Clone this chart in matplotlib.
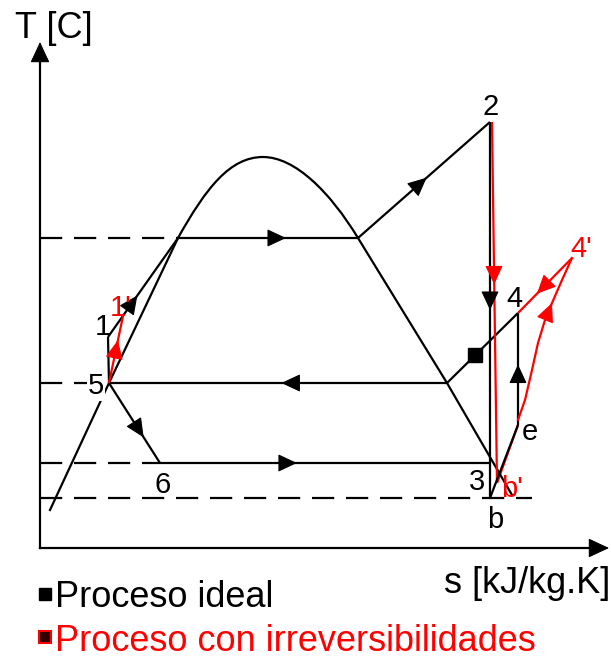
import matplotlib
matplotlib.use("Agg")
import matplotlib.pyplot as plt
from matplotlib.patches import FancyArrowPatch, PathPatch
from matplotlib.path import Path

# Schematic T-s diagram of a two-stage refrigeration cycle.
# Coordinates are schematic: s to the right, T upward, origin at the axes corner.

# saturation dome: straight liquid / vapour branches
liq_s = [10, 69, 138]
liq_T = [38, 165, 310]
vap_s = [318, 407, 472]
vap_T = [310, 165, 53]
# dome cap as two cubic Bezier pieces (anchor, control, control, anchor, ...)
cap_s = [138, 166, 190, 223, 255, 290, 318]
cap_T = [310, 360, 391, 391, 391, 356, 310]

# ideal-cycle state points
states = {
    "1": (68, 211), "5": (69, 165), "L": (138, 310), "R": (318, 310),
    "2": (450, 426), "3": (450, 85), "b": (450, 50), "6": (120, 85),
    "g": (407, 165), "4": (478, 235), "e": (478, 123),
}

# irreversible-process states
states_irr = {"1'": (83, 232), "2'": (452, 426), "b'": (457, 65), "4'": (532, 290)}
curve_e4_s = [478, 485, 492, 498, 505, 512, 522, 532]
curve_e4_T = [128, 148, 178, 205, 228, 245, 268, 290]

# constant-temperature reference levels (dashed)
dash_T = [310, 165, 85, 50]
dash_end = [138, 69, 120, 492]

BLACK = "#000000"
RED = "#ff0000"
LW = 1.6
FONT = "Liberation Sans"

fig = plt.figure(figsize=(6.11, 6.58), dpi=100)
ax = fig.add_axes([0, 0, 1, 1])
ax.set_xlim(-40, 571)
ax.set_ylim(-110, 548)
ax.axis("off")


def head(p, q, frac, color, ms=20):
    """Filled arrowhead on segment p->q, tip at fraction frac."""
    tx = p[0] + (q[0] - p[0]) * frac
    ty = p[1] + (q[1] - p[1]) * frac
    dx, dy = q[0] - p[0], q[1] - p[1]
    n = (dx * dx + dy * dy) ** 0.5
    ex, ey = dx / n, dy / n
    a = FancyArrowPatch((tx - 3 * ex, ty - 3 * ey), (tx, ty),
                        arrowstyle="-|>,head_length=0.6,head_width=0.28",
                        mutation_scale=ms, color=color, lw=0.8,
                        shrinkA=0, shrinkB=0, zorder=5)
    ax.add_patch(a)


def seg(p, q, color=BLACK, z=3):
    ax.plot([p[0], q[0]], [p[1], q[1]], color=color, lw=LW,
            solid_capstyle="butt", zorder=z)


# axes with arrows
ax.plot([0, 0], [0, 500], color=BLACK, lw=LW)
ax.plot([0, 565], [0, 0], color=BLACK, lw=LW)
head((0, 0), (0, 506), 1.0, BLACK, ms=22)
head((0, 0), (569, 0), 1.0, BLACK, ms=22)

# dashed temperature levels
for T, s_end in zip(dash_T, dash_end):
    ln, = ax.plot([0, s_end], [T, T], color=BLACK, lw=LW, zorder=2)
    ln.set_dashes((10, 5.3))

# dome
ax.plot(liq_s, liq_T, color=BLACK, lw=LW, zorder=3)
ax.plot(vap_s, vap_T, color=BLACK, lw=LW, zorder=3)
cap_codes = [Path.MOVETO] + [Path.CURVE4] * (len(cap_s) - 1)
cap = Path(list(zip(cap_s, cap_T)), cap_codes)
ax.add_patch(PathPatch(cap, facecolor="none", edgecolor=BLACK, lw=LW, zorder=3))

S = states
# ideal cycle
seg(S["5"], S["1"])
seg(S["1"], S["L"]); head(S["1"], S["L"], 0.42, BLACK)
seg(S["L"], S["R"]); head(S["L"], S["R"], 0.6, BLACK)
seg(S["R"], S["2"]); head(S["R"], S["2"], 0.52, BLACK)
seg(S["2"], S["b"]); head(S["2"], S["b"], 0.5, BLACK)
seg(S["g"], S["5"]); head(S["g"], S["5"], 0.49, BLACK)
seg(S["5"], S["6"]); head(S["5"], S["6"], 0.68, BLACK)
seg(S["6"], S["3"]); head(S["6"], S["3"], 0.415, BLACK)
seg(S["g"], S["4"])
seg(S["e"], S["4"]); head(S["e"], S["4"], 0.54, BLACK)

# irreversible process (red)
I = states_irr
seg(S["5"], I["1'"], RED, 4); head(S["5"], I["1'"], 0.64, RED)
seg(I["2'"], I["b'"], RED, 4); head(I["2'"], I["b'"], 0.45, RED)
seg(I["b'"], S["e"], RED, 2)
ax.plot(curve_e4_s, curve_e4_T, color=RED, lw=LW, zorder=4)
head((curve_e4_s[4], curve_e4_T[4]), (curve_e4_s[5], curve_e4_T[5]), 1.0, RED)
seg(I["4'"], S["4"], RED, 4); head(I["4'"], S["4"], 0.65, RED)

# compression line from b to e drawn over the red one
seg(S["b"], S["e"], BLACK, 4)

# marker on the ideal line
ax.plot([435], [193], marker="s", ms=9.5, color=BLACK, zorder=6)

# state labels
lab = dict(fontsize=21, family=FONT, ha="center", va="baseline", zorder=7)
ax.text(451, 433, "2", color=BLACK, **lab)
ax.text(63, 213, "1", color=BLACK, **lab)
ax.text(81, 232, "1'", color=RED, **lab)
ax.text(56, 154, "5", color=BLACK,
        bbox=dict(facecolor="white", edgecolor="none", pad=0.5), **lab)
ax.text(123, 55, "6", color=BLACK, **lab)
ax.text(437, 58, "3", color=BLACK, **lab)
ax.text(472, 51, "b'", color=RED, **lab)
ax.text(455, 20, "b", color=BLACK, **lab)
ax.text(490, 108, "e", color=BLACK, **lab)
ax.text(474, 241, "4", color=BLACK, **lab)
ax.text(541, 291, "4'", color=RED, **lab)

# axis titles
ax.text(-25, 510, "T [C]", fontsize=26, family=FONT, ha="left", va="baseline")
ax.text(570, -45, "s [kJ/kg.K]", fontsize=26, family=FONT, ha="right",
        va="baseline")

# legend
ax.plot([5], [-46], marker="s", ms=9, color=BLACK, clip_on=False)
ax.plot([5], [-89], marker="s", ms=9, markerfacecolor="#300000",
        markeredgecolor=RED, markeredgewidth=1.5, clip_on=False)
ax.text(15, -59, "Proceso ideal", fontsize=26, family=FONT, color=BLACK,
        ha="left", va="baseline")
ax.text(15, -103, "Proceso con irreversibilidades", fontsize=26, family=FONT,
        color=RED, ha="left", va="baseline")

fig.savefig("out.png", dpi=100)
